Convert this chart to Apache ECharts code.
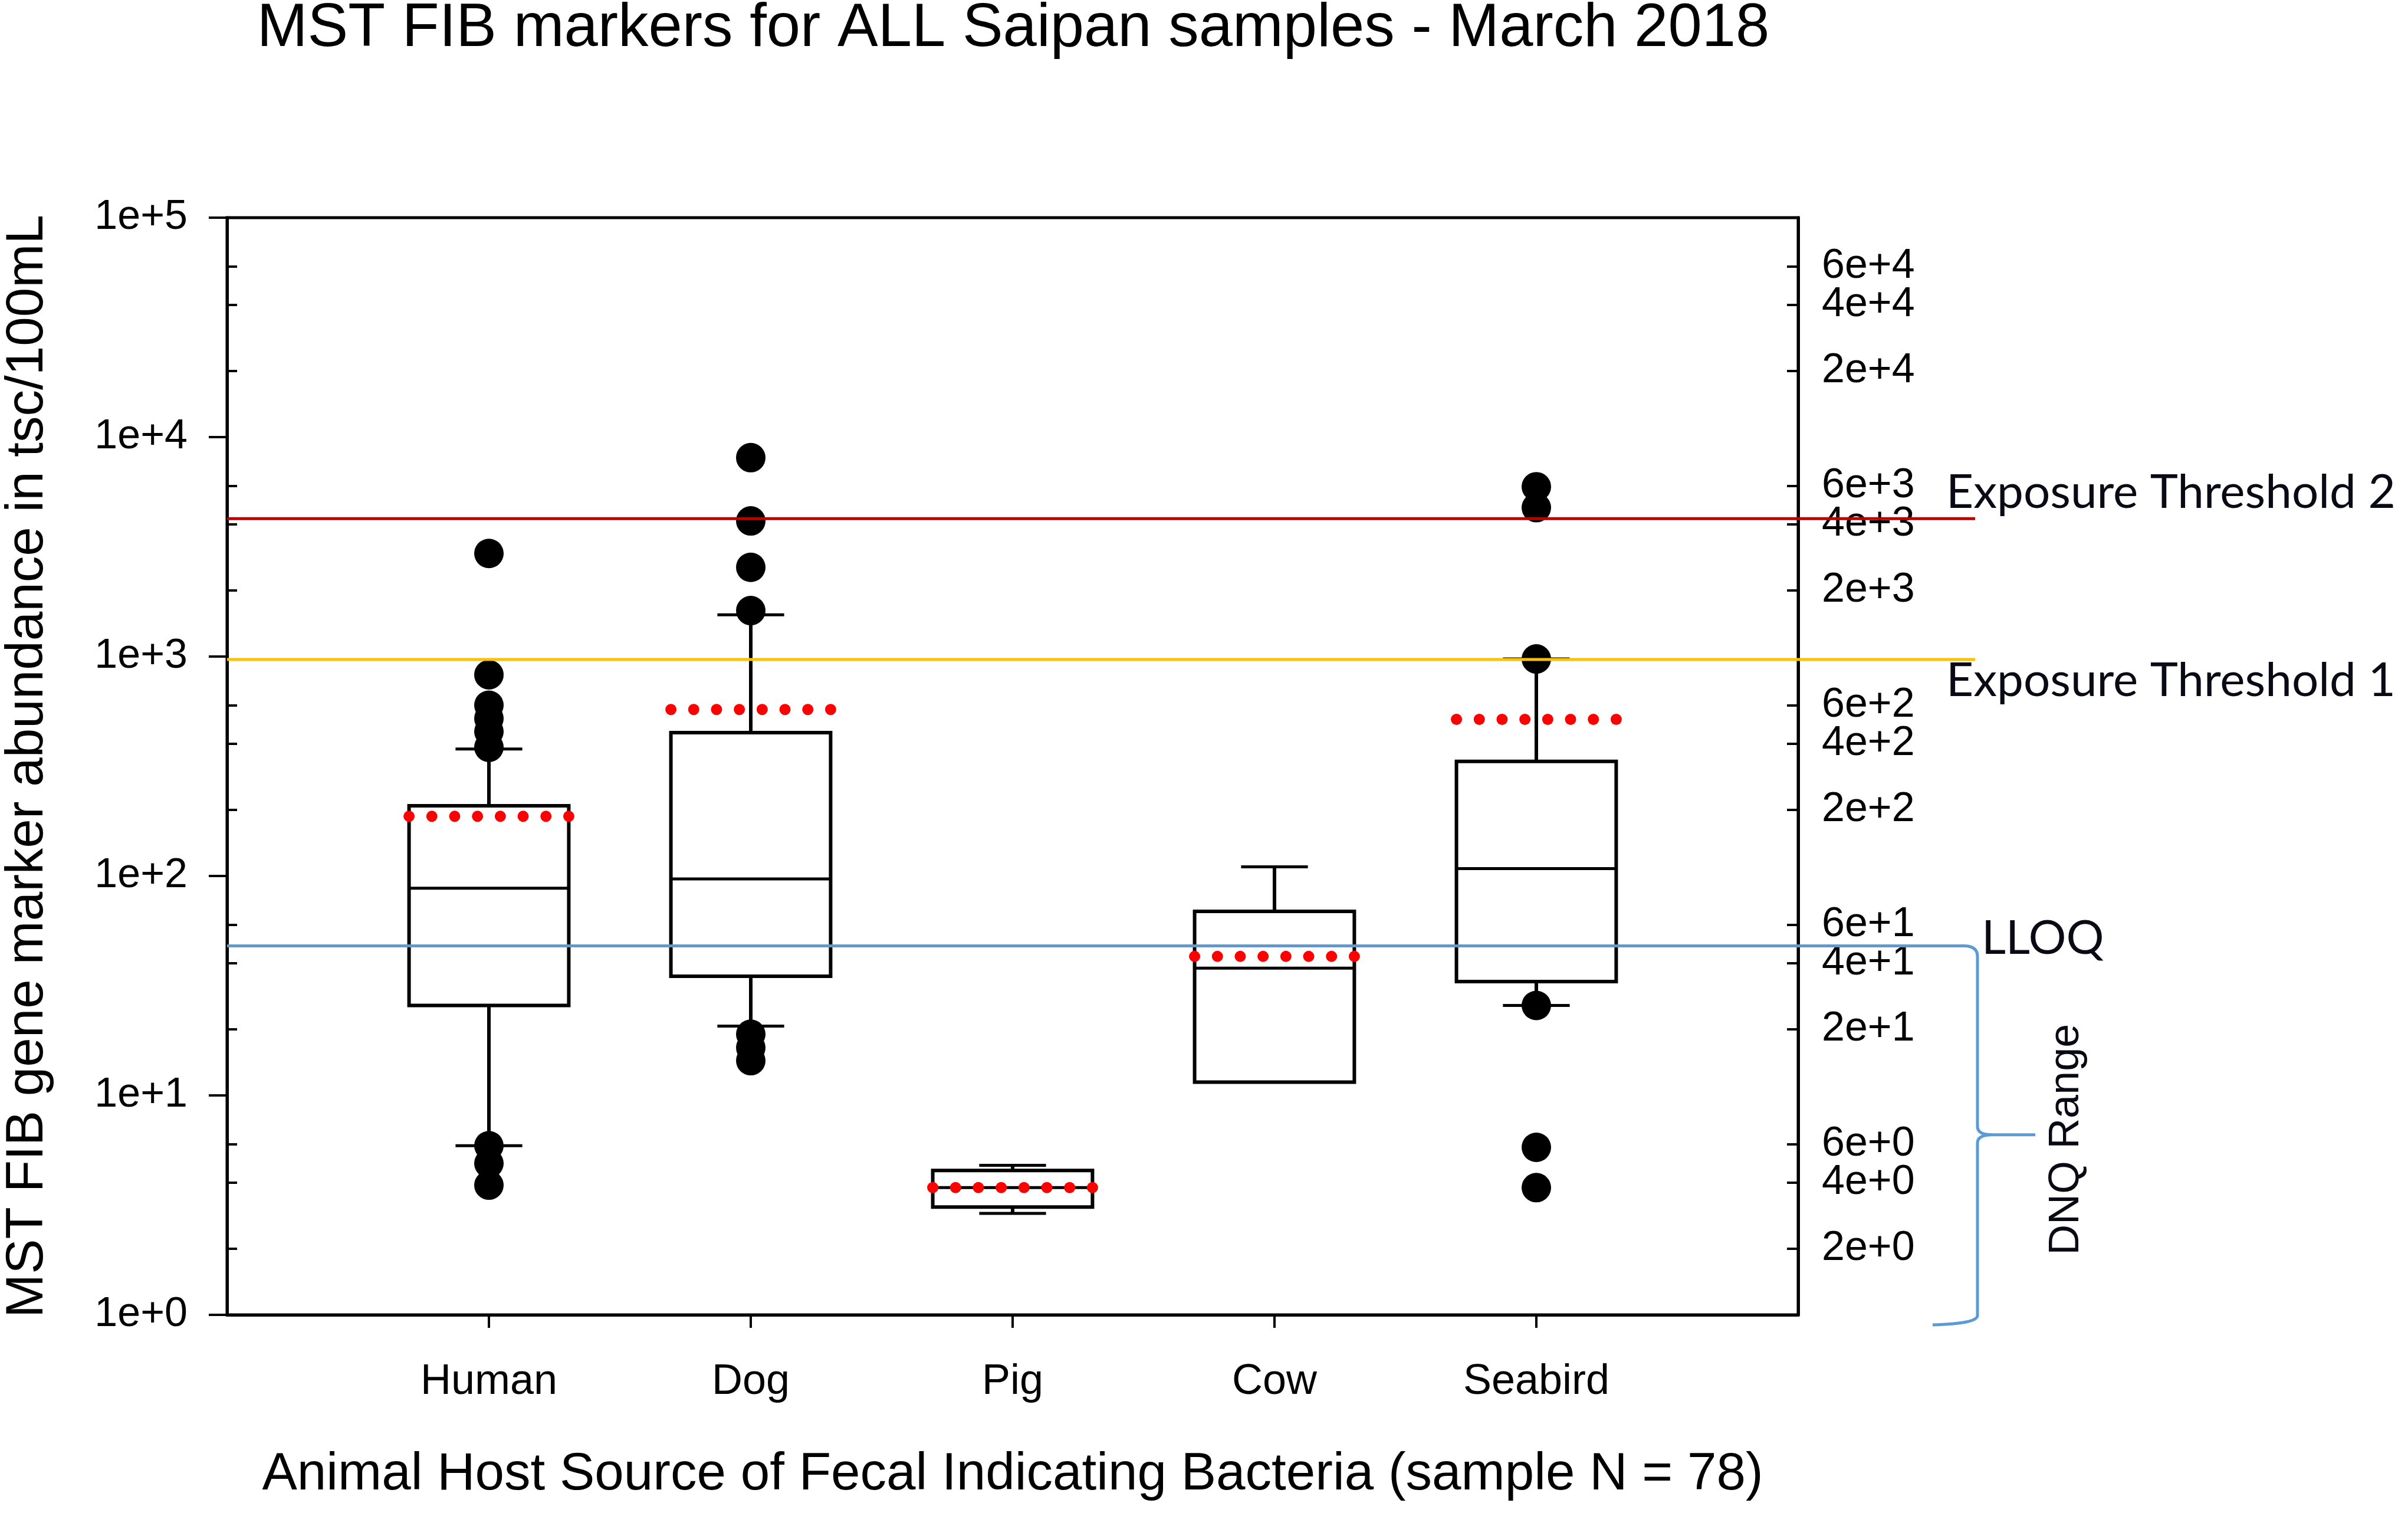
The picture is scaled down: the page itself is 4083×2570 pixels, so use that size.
<!DOCTYPE html>
<html><head><meta charset="utf-8">
<script src="https://cdn.jsdelivr.net/npm/echarts@6/dist/echarts.min.js"></script>
<style>html,body{margin:0;padding:0;background:#fff}#c{width:4083px;height:2570px}</style>
</head><body><div id="c"></div>
<script>
// ---- data ----
const categories = ['Human', 'Dog', 'Pig', 'Cow', 'Seabird'];
const whiskerLow  = [5.9, 20.7, 2.9, 11.5, 25.7];
const q1          = [25.7, 34.9, 3.1, 11.5, 33];
const median      = [88, 97, 3.8, 38, 108];
const q3          = [209, 450, 4.55, 69, 333];
const whiskerHigh = [379, 1550, 4.8, 110, 975];
const means       = [187, 574, 3.8, 43, 517];
const humanOutliers   = [2950, 826, 600, 522, 455, 386, 5.9, 4.9, 3.9];
const dogOutliers     = [8060, 4150, 2550, 1620, 19, 16.5, 14.4];
const pigOutliers     = [];
const cowOutliers     = [];
const seabirdOutliers = [5940, 4770, 975, 25.7, 5.8, 3.8];
const thresholdNames  = ['Exposure Threshold 2', 'Exposure Threshold 1', 'LLOQ'];
const thresholdValues = [4250, 970, 48];
const dnqLabel = 'DNQ Range';
const leftTickValues  = [1, 10, 100, 1000, 10000, 100000];
const rightTickValues = [2, 4, 6, 20, 40, 60, 200, 400, 600, 2000, 4000, 6000, 20000, 40000, 60000];
const titleText = 'MST FIB markers for ALL Saipan samples - March 2018';
const xTitle = 'Animal Host Source of Fecal Indicating Bacteria (sample N = 78)';
const yTitle = 'MST FIB gene marker abundance in tsc/100mL';

// ---- styling ----
const ARIAL = '"Liberation Sans", Arial, sans-serif';
const CALIBRI = 'Lato, "Open Sans", sans-serif';
const BOX_W = 0.61, CAP_W = 0.255;
const Y_MIN = 1, Y_MAX = 100000;
const thresholdColors = ['#C00000', '#FFC000', '#5B9BD5'];

function fmtExp(v) {
  if (v >= Y_MAX * 0.999) return '';
  const e = Math.floor(Math.log10(v) + 1e-9);
  const m = Math.round(v / Math.pow(10, e));
  return m + 'e+' + e;
}
function fmtMajor(v) {
  const e = Math.round(Math.log10(v));
  return '1e+' + e;
}
// the axis end is appended so that the top-most minor tick (6e+4) is kept
const minorTickList = rightTickValues.concat([Y_MAX]);

const xPositions = categories.map((c, i) => i + 1);
const boxData = categories.map((c, i) => [i + 1, whiskerLow[i], q1[i], median[i], q3[i], whiskerHigh[i]]);
const meanData = categories.map((c, i) => [i + 1, means[i]]);
const outlierLists = [humanOutliers, dogOutliers, pigOutliers, cowOutliers, seabirdOutliers];
const outlierData = [];
outlierLists.forEach((list, i) => list.forEach(v => outlierData.push([i + 1, v])));
const thresholdData = thresholdValues.map((v, i) => [i, v]);

function renderBox(params, api) {
  const x = api.value(0);
  const L = x - BOX_W / 2, R = x + BOX_W / 2;
  const cl = x - CAP_W / 2, cr = x + CAP_W / 2;
  const lo = api.coord([x, api.value(1)]);
  const b1 = api.coord([x, api.value(2)]);
  const md = api.coord([x, api.value(3)]);
  const b3 = api.coord([x, api.value(4)]);
  const hi = api.coord([x, api.value(5)]);
  const xl = api.coord([L, 1])[0], xr = api.coord([R, 1])[0];
  const cxl = api.coord([cl, 1])[0], cxr = api.coord([cr, 1])[0];
  const cx = lo[0];
  const st = { stroke: '#000', lineWidth: 6, fill: null };
  const ch = [];
  if (hi[1] < b3[1] - 1) {
    ch.push({ type: 'line', shape: { x1: cx, y1: b3[1], x2: cx, y2: hi[1] }, style: st });
    ch.push({ type: 'line', shape: { x1: cxl, y1: hi[1], x2: cxr, y2: hi[1] }, style: { stroke: '#000', lineWidth: 5 } });
  }
  if (lo[1] > b1[1] + 1) {
    ch.push({ type: 'line', shape: { x1: cx, y1: b1[1], x2: cx, y2: lo[1] }, style: st });
    ch.push({ type: 'line', shape: { x1: cxl, y1: lo[1], x2: cxr, y2: lo[1] }, style: { stroke: '#000', lineWidth: 5 } });
  }
  ch.push({ type: 'rect', shape: { x: xl, y: b3[1], width: xr - xl, height: b1[1] - b3[1] }, style: { stroke: '#000', lineWidth: 6, fill: '#fff' } });
  ch.push({ type: 'line', shape: { x1: xl, y1: md[1], x2: xr, y2: md[1] }, style: { stroke: '#000', lineWidth: 5 } });
  return { type: 'group', children: ch };
}

function renderMean(params, api) {
  const x = api.value(0);
  const p = api.coord([x, api.value(1)]);
  const xl = api.coord([x - BOX_W / 2, 1])[0], xr = api.coord([x + BOX_W / 2, 1])[0];
  const ch = [];
  const n = 8;
  for (let k = 0; k < n; k++) {
    ch.push({ type: 'circle', shape: { cx: xl + (xr - xl) * k / (n - 1), cy: p[1], r: 9.5 }, style: { fill: '#FF0000' } });
  }
  return { type: 'group', children: ch };
}

function renderThreshold(params, api) {
  const i = api.value(0);
  const p = api.coord([0, api.value(1)]);
  const y = p[1];
  const color = thresholdColors[i];
  const ch = [];
  if (i < 2) {
    ch.push({ type: 'line', shape: { x1: p[0], y1: y, x2: 3349, y2: y }, style: { stroke: color, lineWidth: 5 } });
    ch.push({ type: 'text', style: { text: thresholdNames[i], x: 3300, y: i === 0 ? y - 44 : y + 36, fill: '#0a0a14', font: '80px ' + CALIBRI, align: 'left', verticalAlign: 'middle' } });
  } else {
    const top = y;
    const bottom = api.coord([0, Y_MIN])[1] + 15;
    const mid = (top + bottom) / 2;
    ch.push({ type: 'line', shape: { x1: p[0], y1: y, x2: 3330, y2: y }, style: { stroke: color, lineWidth: 5 } });
    const bx = 3353;
    const path = 'M 3330 ' + top + ' Q ' + bx + ' ' + top + ' ' + bx + ' ' + (top + 18) +
      ' L ' + bx + ' ' + (mid - 14) + ' Q ' + bx + ' ' + mid + ' 3378 ' + mid + ' L 3451 ' + mid +
      ' M 3378 ' + mid + ' Q ' + bx + ' ' + mid + ' ' + bx + ' ' + (mid + 14) +
      ' L ' + bx + ' ' + (bottom - 14) + ' Q ' + bx + ' ' + bottom + ' 3277 ' + (bottom + 2);
    ch.push({ type: 'path', shape: { pathData: path }, style: { stroke: color, lineWidth: 5, fill: null } });
    ch.push({ type: 'text', style: { text: thresholdNames[i], x: 3360, y: y - 12, fill: '#0a0a14', font: '80px ' + CALIBRI, align: 'left', verticalAlign: 'middle' } });
    ch.push({ type: 'text', x: 3504, y: mid + 8, rotation: Math.PI / 2, style: { text: dnqLabel, x: 0, y: 0, fill: '#0a0a14', font: '72px ' + ARIAL, align: 'center', verticalAlign: 'middle' } });
  }
  return { type: 'group', children: ch };
}

const chart = echarts.init(document.getElementById('c'), null, { renderer: 'canvas' });
chart.setOption({
  animation: false,
  backgroundColor: '#fff',
  title: {
    text: titleText, left: 1713, top: 0, textAlign: 'center',
    textStyle: { fontSize: 103, fontWeight: 'normal', fontFamily: ARIAL, color: '#000', lineHeight: 90 }
  },
  grid: { left: 385, right: 1034, top: 369, bottom: 341, show: true, borderColor: '#000', borderWidth: 5, backgroundColor: 'transparent', containLabel: false, outerBoundsMode: 'none' },
  xAxis: {
    type: 'value', min: 0, max: 6, interval: 1,
    splitLine: { show: false },
    axisLine: { show: true, lineStyle: { color: '#000', width: 5 } },
    axisTick: { show: true, customValues: xPositions, length: 22, lineStyle: { color: '#000', width: 4 } },
    axisLabel: { customValues: xPositions, formatter: v => categories[Math.round(v) - 1] || '', fontSize: 72, fontFamily: ARIAL, color: '#000', margin: 114, verticalAlign: 'middle' },
    name: xTitle, nameLocation: 'middle', nameGap: 271,
    nameTextStyle: { fontSize: 89, fontFamily: ARIAL, color: '#000', verticalAlign: 'middle' }
  },
  yAxis: [
    {
      type: 'log', logBase: 10, min: Y_MIN, max: Y_MAX, position: 'left',
      splitLine: { show: false },
      axisLine: { show: true, lineStyle: { color: '#000', width: 5 } },
      axisTick: { show: true, customValues: leftTickValues, length: 31, lineStyle: { color: '#000', width: 4 } },
      axisLabel: { customValues: leftTickValues, formatter: fmtMajor, fontSize: 70, fontFamily: ARIAL, color: '#000', margin: 67 },
      name: yTitle, nameLocation: 'middle', nameGap: 338,
      nameTextStyle: { fontSize: 89, fontFamily: ARIAL, color: '#000', verticalAlign: 'middle' }
    },
    {
      type: 'log', logBase: 10, min: Y_MIN, max: Y_MAX, position: 'right',
      splitLine: { show: false },
      axisLine: { show: true, lineStyle: { color: '#000', width: 5 } },
      axisTick: { show: true, inside: true, customValues: minorTickList, length: 19, lineStyle: { color: '#000', width: 4 } },
      axisLabel: { customValues: minorTickList, formatter: fmtExp, fontSize: 70, fontFamily: ARIAL, color: '#000', margin: 40 }
    },
    {
      type: 'log', logBase: 10, min: Y_MIN, max: Y_MAX, position: 'left', offset: 0,
      splitLine: { show: false },
      axisLine: { show: false },
      axisTick: { show: true, inside: true, customValues: minorTickList, length: 17, lineStyle: { color: '#000', width: 4 } },
      axisLabel: { show: false }
    }
  ],
  series: [
    { type: 'custom', name: 'box', coordinateSystem: 'cartesian2d', xAxisIndex: 0, yAxisIndex: 0, renderItem: renderBox, data: boxData, z: 2 },
    { type: 'scatter', name: 'outliers', xAxisIndex: 0, yAxisIndex: 0, data: outlierData, symbol: 'circle', symbolSize: 50, itemStyle: { color: '#000', opacity: 1 }, z: 3 },
    { type: 'custom', name: 'thresholds', coordinateSystem: 'cartesian2d', xAxisIndex: 0, yAxisIndex: 0, renderItem: renderThreshold, data: thresholdData, clip: false, z: 4 },
    { type: 'custom', name: 'mean', coordinateSystem: 'cartesian2d', xAxisIndex: 0, yAxisIndex: 0, renderItem: renderMean, data: meanData, z: 5 }
  ]
});
</script>
</body></html>
